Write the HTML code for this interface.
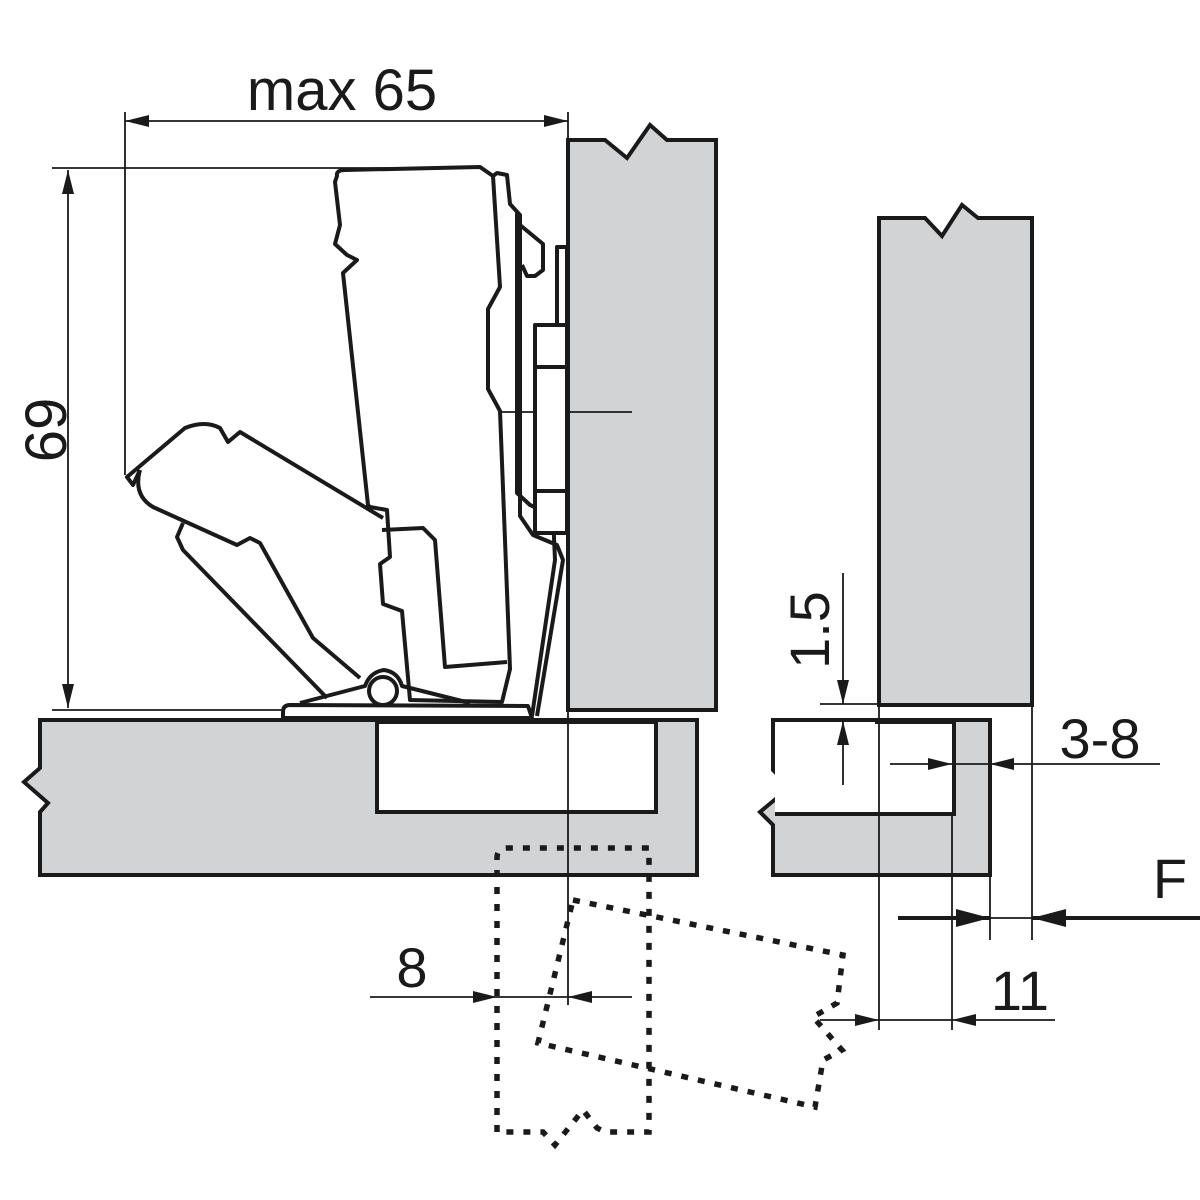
<!DOCTYPE html>
<html><head><meta charset="utf-8"><style>
html,body{margin:0;padding:0;background:#fff;}
svg{display:block}
text{font-family:"Liberation Sans",Arial,sans-serif;fill:#1a1a1a}
</style></head><body>
<svg width="1200" height="1200" viewBox="0 0 1200 1200" xmlns="http://www.w3.org/2000/svg">
<defs>
<marker id="a" viewBox="0 0 24 12" refX="24" refY="6" markerWidth="24" markerHeight="12" markerUnits="userSpaceOnUse" orient="auto">
<path d="M0,0 L24,6 L0,12 Z" fill="#1a1a1a"/></marker>
<marker id="b" viewBox="0 0 34 18" refX="34" refY="9" markerWidth="34" markerHeight="18" markerUnits="userSpaceOnUse" orient="auto">
<path d="M0,0 L34,9 L0,18 Z" fill="#1a1a1a"/></marker>
</defs>
<g stroke="#1a1a1a" fill="none">
<path d="M568,710 L568,140 L605,140 L627,158 L650,125 L667,140 L716,140 L716,710 Z" fill="#d1d3d4" stroke-width="4"/>
<path d="M40,720 L697,720 L697,875 L40,875 L40,812 L48,803 L24,782 L40,768 Z" fill="#d1d3d4" stroke-width="4"/>
<rect x="377" y="722" width="279" height="90" fill="#fff" stroke-width="4"/>
<path d="M879,705 L879,218 L925,218 L942,236 L962,205 L978,218 L1032,218 L1032,705 Z" fill="#d1d3d4" stroke-width="4"/>
<path d="M773,720 L990,720 L990,875 L773,875 L773,825 L760,812 L790,787 L773,770 Z" fill="#d1d3d4" stroke-width="4"/>
<path d="M775,722 L954,722 L954,814 L775,814" fill="#fff" stroke-width="4"/>
<rect x="775" y="722" width="100" height="8" fill="#fff" stroke="none"/>

<g stroke-width="1.8">
<line x1="125" y1="112" x2="125" y2="475"/>
<line x1="568" y1="112" x2="568" y2="140"/>
<line x1="340" y1="121" x2="568" y2="121" marker-end="url(#a)"/>
<line x1="340" y1="121" x2="125" y2="121" marker-end="url(#a)"/>
<line x1="52" y1="168" x2="480" y2="168"/>
<line x1="52" y1="710" x2="290" y2="710"/>
<line x1="68" y1="440" x2="68" y2="708" marker-end="url(#a)"/>
<line x1="68" y1="440" x2="68" y2="170" marker-end="url(#a)"/>
<line x1="568" y1="710" x2="568" y2="1005"/>
<line x1="475" y1="412" x2="632" y2="412"/>
<line x1="370" y1="997" x2="497" y2="997" marker-end="url(#a)"/>
<line x1="632" y1="997" x2="568" y2="997" marker-end="url(#a)"/>
<line x1="497" y1="997" x2="568" y2="997"/>
<line x1="843" y1="573" x2="843" y2="704" marker-end="url(#a)"/>
<line x1="843" y1="785" x2="843" y2="721" marker-end="url(#a)"/>
<line x1="820" y1="704" x2="879" y2="704"/>
<line x1="879" y1="705" x2="879" y2="1030"/>
<line x1="952" y1="814" x2="952" y2="1030"/>
<line x1="990" y1="875" x2="990" y2="940"/>
<line x1="1032" y1="705" x2="1032" y2="940"/>
<line x1="890" y1="764" x2="952" y2="764" marker-end="url(#a)"/>
<line x1="1160" y1="764" x2="990" y2="764" marker-end="url(#a)"/>
<line x1="952" y1="764" x2="990" y2="764"/>
<line x1="990" y1="918" x2="1032" y2="918"/>
<line x1="820" y1="1020" x2="879" y2="1020" marker-end="url(#a)"/>
<line x1="1055" y1="1020" x2="952" y2="1020" marker-end="url(#a)"/>
<line x1="879" y1="1020" x2="952" y2="1020"/>
</g>
<line x1="898" y1="918" x2="990" y2="918" stroke-width="4" marker-end="url(#b)"/>
<line x1="1200" y1="918" x2="1032" y2="918" stroke-width="4" marker-end="url(#b)"/>

<g stroke-width="4" stroke-linejoin="round" fill="#fff">
<path d="M383,518 L240,432 L228,442 L220,428 Q205,420 185,428 L127,477 L133,485 L140,470" fill="none"/>
<path d="M140,470 Q133,495 153,507 L237,545 L250,538 L260,543 L313,638 L360,678" fill="none"/>
<path d="M183,523 L177,537 L183,550 L327,698" fill="none"/>
<path d="M337,176 Q336,170 345,170 L480,167 L493,176 L500,287 L488,309 L488,389 L500,411 L510,669 L502,702 L410,700 L402,611 L383,604 L380,564 L390,557 L387,510 L370,507 L368,505 L343,273 L357,260 L347,255 L335,244 L340,225 L335,182 Z"/>
<path d="M382,530 L423,528 L435,540 L445,667 L507,662" fill="none"/>
<path d="M493,176 L497,173 L507,175 L510,204 L520,215 L520,516 L533,535 L557,545 L563,560 L537,716" fill="none"/>
<path d="M517,213 L517,493 L530,505 L553,515 L555,560 L532,716" fill="none"/>
<path d="M520,225 L543,244 L543,270 L535,276 L527,276 L522,265" fill="none"/>
<rect x="535" y="325" width="32" height="208"/>
<line x1="535" y1="367" x2="567" y2="367"/>
<line x1="535" y1="491" x2="567" y2="491"/>
<rect x="557" y="247" width="10" height="78"/>
<path d="M290,705 Q283,705 283,712 L283,718 L532,718 L528,706 L290,705 Z"/>
<path d="M300,703 L365,686 Q370,672 384,670 Q398,672 402,686 L470,703" fill="none"/>
<circle cx="383" cy="691" r="14"/>
</g>

<g stroke-width="5.5" stroke-dasharray="7 10">
<path d="M497,1132 L497,858 Q497,848 507,848 L649,848 L649,1132 L605,1132 L597,1128 L583,1110 L555,1145 L543,1132 Z"/>
<path d="M573,900 L843,955 L837,1003 L813,1017 L842,1050 L823,1060 L815,1107 L538,1043 Z"/>
</g>
</g>

<text x="342" y="110" font-size="58" text-anchor="middle">max 65</text>
<text x="0" y="0" font-size="58" text-anchor="middle" transform="translate(66,430) rotate(-90)">69</text>
<text x="412" y="987" font-size="56" text-anchor="middle">8</text>
<text x="0" y="0" font-size="56" text-anchor="middle" transform="translate(829,630) rotate(-90)">1.5</text>
<text x="1100" y="758" font-size="56" text-anchor="middle">3-8</text>
<text x="1170" y="898" font-size="56" text-anchor="middle">F</text>
<text x="1020" y="1010" font-size="56" text-anchor="middle">11</text>
</svg>
</body></html>
